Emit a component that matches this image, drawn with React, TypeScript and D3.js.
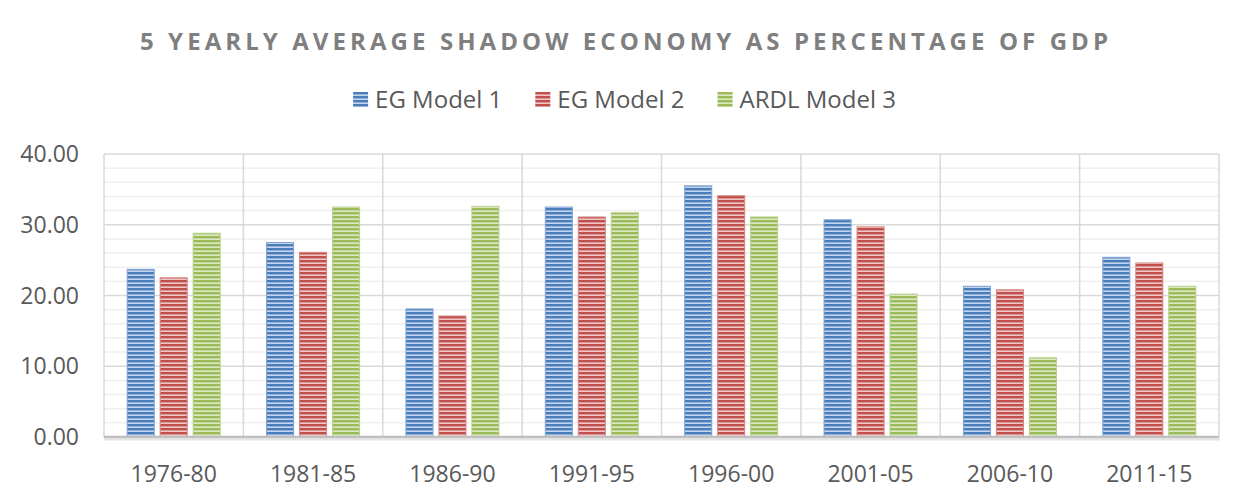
import React, { useEffect, useRef } from 'react';
import * as d3 from 'd3';

const categories = ['1976-80', '1981-85', '1986-90', '1991-95', '1996-00', '2001-05', '2006-10', '2011-15'];
const seriesNames = ['EG Model 1', 'EG Model 2', 'ARDL Model 3'];
const egModel1 = [23.7, 27.5, 18.1, 32.5, 35.5, 30.7, 21.3, 25.4];
const egModel2 = [22.5, 26.1, 17.1, 31.1, 34.1, 29.7, 20.8, 24.6];
const ardlModel3 = [28.8, 32.5, 32.6, 31.7, 31.1, 20.2, 11.2, 21.3];
const yTicks = [0, 10, 20, 30, 40];

const colors = [
    { dark: '#4a7ebb', light: '#c3d4ee', edge: '#7fa2d6' },
    { dark: '#c0504d', light: '#efc6c5', edge: '#d58684' },
    { dark: '#9bbb59', light: '#dce9c4', edge: '#b9d08c' },
];

const title = '5 YEARLY AVERAGE SHADOW ECONOMY AS PERCENTAGE OF GDP';
const font = '"Open Sans", sans-serif';

const ShadowChart = () => {
    const ref = useRef<SVGSVGElement>(null);

    const graph = () => {
        const svg = d3.select(ref.current);
        svg.selectAll('*').remove();

        const width = 1249, height = 504;
        const margin = { top: 154, right: 30, bottom: 67, left: 104 };
        const values = [egModel1, egModel2, ardlModel3];

        // patterns
        const defs = svg.append('defs');
        colors.forEach((c, i) => {
            const p = defs.append('pattern')
                .attr('id', 'stripe' + i)
                .attr('patternUnits', 'userSpaceOnUse')
                .attr('width', 8).attr('height', 4);
            p.append('rect').attr('width', 8).attr('height', 4).attr('fill', c.light);
            p.append('rect').attr('width', 8).attr('height', 2.4).attr('fill', c.dark);
        });

        // chart border
        svg.append('rect')
            .attr('x', 1.5).attr('y', 2.5)
            .attr('width', width - 3).attr('height', height - 4)
            .attr('fill', '#fff').attr('stroke', '#d9d9d9').attr('stroke-width', 1.5);

        const x0 = d3.scaleBand().domain(categories)
            .range([margin.left, width - margin.right])
            .padding(0);
        const groupW = 93;
        const x1 = d3.scaleBand().domain(seriesNames)
            .range([(x0.bandwidth() - groupW) / 2, (x0.bandwidth() + groupW) / 2])
            .paddingInner(0.18).paddingOuter(0);
        const y = d3.scaleLinear().domain([0, 40]).range([height - margin.bottom, margin.top]);

        // minor gridlines
        svg.append('g').selectAll('line')
            .data(d3.range(2, 40, 2).filter(v => v % 10 !== 0))
            .enter().append('line')
            .attr('x1', margin.left).attr('x2', width - margin.right)
            .attr('y1', d => y(d)).attr('y2', d => y(d))
            .attr('stroke', '#efefef').attr('stroke-width', 1.5);

        // major gridlines
        svg.append('g').selectAll('line')
            .data(yTicks.filter(v => v > 0))
            .enter().append('line')
            .attr('x1', margin.left).attr('x2', width - margin.right)
            .attr('y1', d => y(d)).attr('y2', d => y(d))
            .attr('stroke', '#d9d9d9').attr('stroke-width', 1.5);

        // vertical gridlines
        svg.append('g').selectAll('line')
            .data([...categories.map(c => x0(c) as number), width - margin.right])
            .enter().append('line')
            .attr('x1', d => d).attr('x2', d => d)
            .attr('y1', y(40)).attr('y2', y(0))
            .attr('stroke', '#d9d9d9').attr('stroke-width', 1.5);

        // bars
        values.forEach((vals, si) => {
            svg.append('g').selectAll('rect')
                .data(vals)
                .enter().append('rect')
                .attr('x', (d, i) => (x0(categories[i]) as number) + (x1(seriesNames[si]) as number))
                .attr('width', x1.bandwidth())
                .attr('y', d => y(d))
                .attr('height', d => y(0) - y(d))
                .attr('fill', `url(#stripe${si})`)
                .attr('stroke', colors[si].edge)
                .attr('stroke-width', 1);
        });

        // x axis line with shadow
        svg.append('line')
            .attr('x1', margin.left).attr('x2', width - margin.right + 1)
            .attr('y1', y(0) + 2.5).attr('y2', y(0) + 2.5)
            .attr('stroke', '#e3e3e3').attr('stroke-width', 2);
        svg.append('line')
            .attr('x1', margin.left).attr('x2', width - margin.right)
            .attr('y1', y(0)).attr('y2', y(0))
            .attr('stroke', '#bfbfbf').attr('stroke-width', 2.5);

        // y tick labels
        svg.append('g').selectAll('text')
            .data(yTicks)
            .enter().append('text')
            .attr('x', 79).attr('y', d => y(d))
            .attr('dy', '0.35em')
            .attr('text-anchor', 'end')
            .style('font-family', font).style('font-size', '23px').style('fill', '#595959')
            .text(d => d3.format('.2f')(d));

        // x tick labels
        svg.append('g').selectAll('text')
            .data(categories)
            .enter().append('text')
            .attr('x', d => (x0(d) as number) + x0.bandwidth() / 2)
            .attr('y', 482)
            .attr('text-anchor', 'middle')
            .style('font-family', font).style('font-size', '23px').style('fill', '#595959')
            .text(d => d);

        // title
        svg.append('text')
            .attr('x', 624).attr('y', 50)
            .attr('text-anchor', 'middle')
            .attr('textLength', 968).attr('lengthAdjust', 'spacing')
            .style('font-family', font).style('font-size', '24px').style('font-weight', '700')
            .style('fill', '#7f7f7f')
            .text(title);

        // legend
        const legend = svg.append('g');
        let lx = 0;
        seriesNames.forEach((name, i) => {
            const item = legend.append('g').attr('transform', `translate(${lx},0)`);
            item.append('rect')
                .attr('x', 0).attr('y', 92).attr('width', 15).attr('height', 15)
                .attr('fill', `url(#stripe${i})`);
            const t = item.append('text')
                .attr('x', 22).attr('y', 108)
                .style('font-family', font).style('font-size', '24px').style('fill', '#595959')
                .text(name);
            const w = (t.node() as SVGTextElement).getComputedTextLength();
            lx += 22 + w + 33;
        });
        const total = lx - 33;
        legend.attr('transform', `translate(${(width - total) / 2},0)`);
    };

    useEffect(() => graph());

    return (
        <svg ref={ref} width="1249" height="504" style={{ display: 'block' }}></svg>
    );
};

export default function App() {
    return (
        <div style={{ margin: -8 }}>
            <ShadowChart />
        </div>
    );
}
